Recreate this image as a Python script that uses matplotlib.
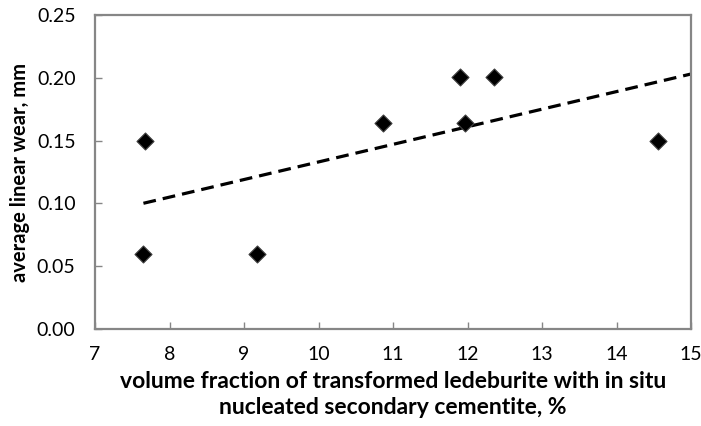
import numpy as np
import matplotlib.pyplot as plt

# data
vol_fraction = [7.65, 7.67, 9.17, 10.87, 11.90, 11.97, 12.35, 14.56]
linear_wear = [0.060, 0.150, 0.060, 0.164, 0.201, 0.164, 0.201, 0.150]
x_ticks = [7, 8, 9, 10, 11, 12, 13, 14, 15]
y_ticks = [0.00, 0.05, 0.10, 0.15, 0.20, 0.25]

plt.rcParams['font.family'] = ['Lato', 'DejaVu Sans']

fig = plt.figure(figsize=(7.01, 4.26), dpi=100)
ax = fig.add_axes([95 / 701, 1 - 329 / 426, 596 / 701, 314 / 426])

# linear trendline from the smallest x out to the axis end
k, b = np.polyfit(vol_fraction, linear_wear, 1)
xt = np.array([min(vol_fraction), 15])
ax.plot(xt, k * xt + b, color='black', lw=2.3, ls=(0, (4, 2.2)))

ax.scatter(vol_fraction, linear_wear, marker='D', s=75, color='black',
           edgecolors='#404040', linewidths=0.8, zorder=3)

ax.set_xlim(7, 15)
ax.set_ylim(0, 0.25)
ax.set_xticks(x_ticks)
ax.set_yticks(y_ticks)
ax.set_yticklabels(['%.2f' % v for v in y_ticks])
ax.tick_params(direction='in', length=5, width=1, color='#868686',
               labelsize=14)
ax.tick_params(axis='x', pad=12)
ax.tick_params(axis='y', pad=14)
for s in ax.spines.values():
    s.set_color('#868686')
    s.set_linewidth(1.6)

ax.set_ylabel('average linear wear, mm', fontsize=14.5, fontweight='bold',
              labelpad=5)
ax.set_xlabel('volume fraction of transformed ledeburite with in situ\nnucleated secondary cementite, %',
              fontsize=16.5, fontweight='bold', labelpad=6,
              linespacing=1.3)

fig.savefig('out.png', dpi=100)
